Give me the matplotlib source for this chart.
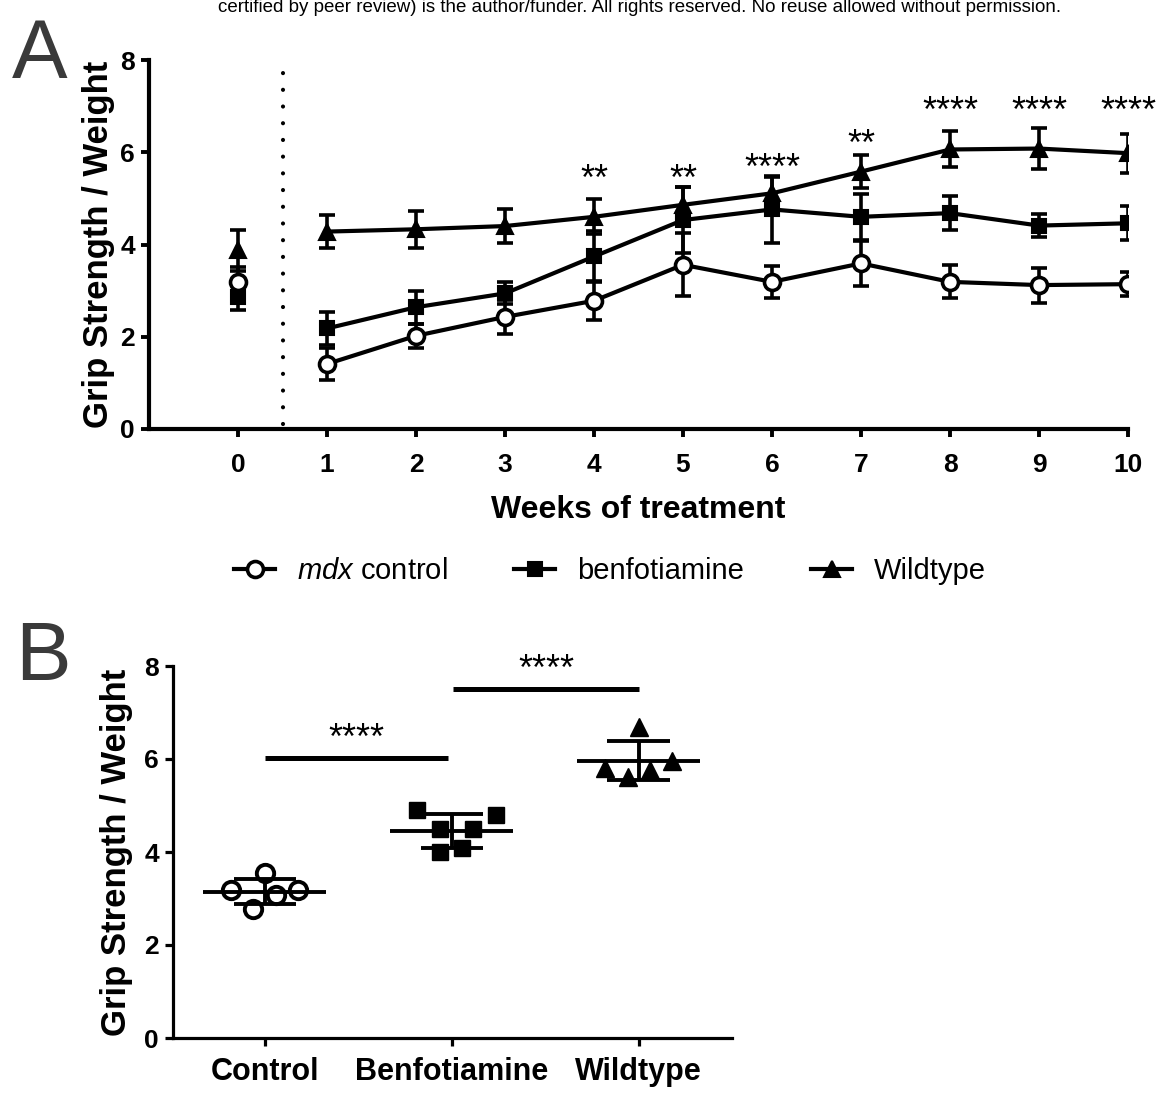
import matplotlib
matplotlib.use('Agg')
import matplotlib.pyplot as plt
import matplotlib.transforms as mtransforms
import numpy as np

plt.rcParams['font.family'] = ['Liberation Sans', 'DejaVu Sans']
plt.rcParams['mathtext.fontset'] = 'custom'
plt.rcParams['mathtext.it'] = 'Liberation Sans:italic'
plt.rcParams['mathtext.rm'] = 'Liberation Sans'

# ---------------- Panel A data ----------------
weeks = [0, 1, 2, 3, 4, 5, 6, 7, 8, 9, 10]
mdx_mean = [3.19, 1.41, 2.02, 2.43, 2.78, 3.56, 3.19, 3.59, 3.19, 3.12, 3.14]
mdx_err = [0.33, 0.35, 0.26, 0.36, 0.42, 0.68, 0.34, 0.49, 0.36, 0.38, 0.26]
benfo_mean = [2.87, 2.18, 2.64, 2.94, 3.74, 4.53, 4.76, 4.60, 4.68, 4.41, 4.46]
benfo_err = [0.29, 0.36, 0.36, 0.24, 0.55, 0.72, 0.73, 0.50, 0.37, 0.25, 0.37]
wt_mean = [3.87, 4.28, 4.33, 4.40, 4.60, 4.86, 5.11, 5.58, 6.06, 6.08, 5.98]
wt_err = [0.44, 0.35, 0.40, 0.37, 0.38, 0.38, 0.36, 0.36, 0.39, 0.45, 0.42]
series_labels = [r'$mdx$ control', 'benfotiamine', 'Wildtype']

sig_weeks = [4, 5, 6, 7, 8, 9, 10]
sig_labels = ['**', '**', '****', '**', '****', '****', '****']
sig_y = [5.64, 5.65, 5.87, 6.40, 7.12, 7.12, 7.12]

# ---------------- Panel B data ----------------
groups = ['Control', 'Benfotiamine', 'Wildtype']
control_vals = [3.18, 3.54, 2.77, 3.08, 3.18]
control_jit = [-0.18, 0.0, -0.06, 0.06, 0.18]
benfo_vals = [4.90, 4.80, 4.49, 4.49, 3.99, 4.08]
benfo_jit = [-0.185, 0.236, -0.061, 0.114, -0.061, 0.055]
wt_vals = [6.68, 5.80, 5.62, 5.76, 5.96]
wt_jit = [0.0, -0.177, -0.055, 0.063, 0.181]
bar_pairs = [(0, 0.98), (1.01, 2.0)]
bar_y = [6.02, 7.50]
bar_labels = ['****', '****']
bar_star_y = [6.68, 8.16]

W, H = 1161, 1093
fig = plt.figure(figsize=(W / 100, H / 100), dpi=100)


def px_axes(l, t, r, b):
    return fig.add_axes([l / W, 1 - b / H, (r - l) / W, (b - t) / H])


STAR_FS = 26

# ---------------- Panel A ----------------
axA = px_axes(149, 60, 1128, 429)
styles = [
    (wt_mean, wt_err, dict(marker='^', mfc='black', mec='black', ms=12, mew=1.5)),
    (benfo_mean, benfo_err, dict(marker='s', mfc='black', mec='black', ms=10.5, mew=1.5)),
    (mdx_mean, mdx_err, dict(marker='o', mfc='white', mec='black', ms=11.5, mew=2.6)),
]
handles = {}
for k, (m, e, st) in enumerate(styles):
    axA.errorbar(weeks, m, yerr=e, fmt='none', ecolor='black', elinewidth=2.6,
                 capsize=6, capthick=2.6, zorder=2 + k)
    ln, = axA.plot(weeks[1:], m[1:], color='black', lw=3, zorder=3 + k, **st)
    axA.plot(weeks[:1], m[:1], color='black', lw=0, zorder=3 + k, **st)
    handles[k] = ln

axA.plot([0.5, 0.5], [0.1, 7.8], color='black', lw=3, linestyle=(0, (0.01, 4.0)),
         dash_capstyle='round', zorder=1)

star_tr = mtransforms.offset_copy(axA.transData, fig=fig, y=-0.585 * STAR_FS, units='points')
for wk, lab, yy in zip(sig_weeks, sig_labels, sig_y):
    axA.text(wk, yy, lab, transform=star_tr, ha='center', va='baseline',
             fontsize=STAR_FS, clip_on=False)

axA.set_xlim(-1, 10)
axA.set_ylim(0, 8)
axA.set_xticks(weeks)
axA.set_yticks([0, 2, 4, 6, 8])
for s in ['top', 'right']:
    axA.spines[s].set_visible(False)
for s in ['left', 'bottom']:
    axA.spines[s].set_linewidth(3)
axA.tick_params(width=2.8, length=6, labelsize=19, pad=4)
axA.tick_params(axis='x', pad=11)
for t in axA.get_xticklabels() + axA.get_yticklabels():
    t.set_fontweight('bold')
axA.set_xlabel('Weeks of treatment', fontsize=23, fontweight='bold', labelpad=13)
axA.set_ylabel('Grip Strength / Weight', fontsize=25, fontweight='bold', labelpad=4)

fig.legend([handles[2], handles[1], handles[0]], series_labels,
           loc='center', bbox_to_anchor=(610 / W, 1 - 571 / H), ncol=3,
           frameon=False, fontsize=21, handlelength=1.4, handletextpad=0.75,
           columnspacing=2.3)

# ---------------- Panel B ----------------
axB = px_axes(173, 666, 732, 1038)
b_data = [(control_vals, control_jit, dict(marker='o', mfc='white', mec='black', ms=12.5, mew=2.8)),
          (benfo_vals, benfo_jit, dict(marker='s', mfc='black', mec='black', ms=11, mew=1)),
          (wt_vals, wt_jit, dict(marker='^', mfc='black', mec='black', ms=12.5, mew=1))]
for i, (vals, jit, st) in enumerate(b_data):
    xs = [i + j for j in jit]
    axB.plot(xs, vals, linestyle='none', zorder=2, **st)
    mu = float(np.mean(vals))
    sd = float(np.std(vals, ddof=1))
    axB.hlines(mu, i - 0.33, i + 0.33, color='black', lw=2.8, zorder=3)
    axB.vlines(i, mu - sd, mu + sd, color='black', lw=2.8, zorder=3)
    axB.hlines([mu - sd, mu + sd], i - 0.166, i + 0.166, color='black', lw=2.8, zorder=3)

starB_tr = mtransforms.offset_copy(axB.transData, fig=fig, y=-0.585 * STAR_FS, units='points')
for (x0, x1), yy, lab, sy in zip(bar_pairs, bar_y, bar_labels, bar_star_y):
    axB.plot([x0, x1], [yy, yy], color='black', lw=3.6, solid_capstyle='butt', clip_on=False)
    axB.text((x0 + x1) / 2, sy, lab, transform=starB_tr, ha='center', va='baseline',
             fontsize=STAR_FS, clip_on=False)

axB.set_xlim(-0.49, 2.5)
axB.set_ylim(0, 8)
axB.set_xticks(range(len(groups)))
axB.set_xticklabels(groups)
axB.set_yticks([0, 2, 4, 6, 8])
for s in ['top', 'right']:
    axB.spines[s].set_visible(False)
for s in ['left', 'bottom']:
    axB.spines[s].set_linewidth(2.3)
axB.tick_params(width=2.3, length=6, pad=4)
axB.tick_params(axis='y', labelsize=19)
axB.tick_params(axis='x', labelsize=22, pad=8)
for t in axB.get_xticklabels() + axB.get_yticklabels():
    t.set_fontweight('bold')
axB.set_ylabel('Grip Strength / Weight', fontsize=25, fontweight='bold', labelpad=8)

# ---------------- Panel letters and header ----------------
fig.text(12 / W, 1 - 78 / H, 'A', fontsize=60, color='#3a3a3a', va='baseline', ha='left')
fig.text(15 / W, 1 - 680 / H, 'B', fontsize=60, color='#3a3a3a', va='baseline', ha='left')
fig.text(640 / W, 1 - 12 / H,
         'certified by peer review) is the author/funder. All rights reserved. No reuse allowed without permission.',
         fontsize=13.5, ha='center', va='baseline', color='black',
         family=['Liberation Sans Narrow', 'Liberation Sans', 'DejaVu Sans'])

fig.savefig('out.png', dpi=100)
